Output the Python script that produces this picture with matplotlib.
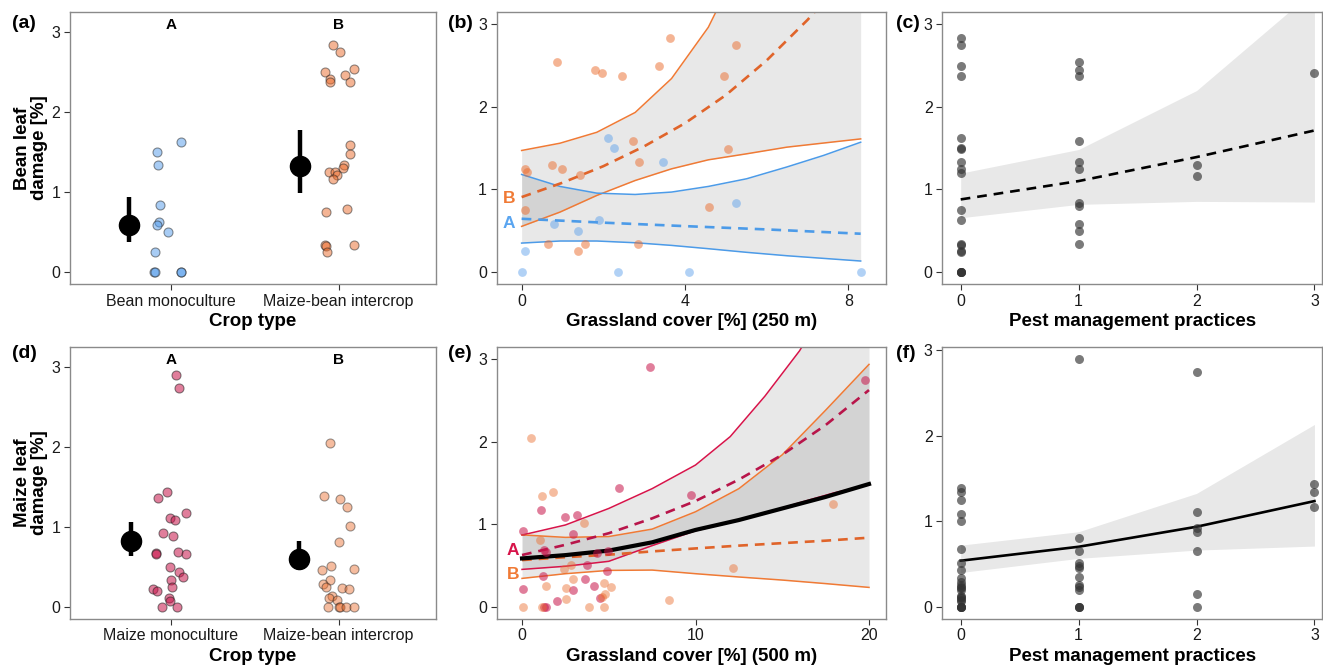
import matplotlib
matplotlib.use('Agg')
import matplotlib.pyplot as plt

plt.rcParams['font.family'] = ['Liberation Sans', 'DejaVu Sans']
plt.rcParams['lines.scale_dashes'] = False

# ---------------- data ----------------
crop_labels_bean = ['Bean monoculture', 'Maize-bean intercrop']
crop_labels_maize = ['Maize monoculture', 'Maize-bean intercrop']
group_letters = ['A', 'B']

# (a) bean leaf damage by crop type (jittered positions)
bean_mono_x = [1.06, 0.92, 0.927, 0.937, 0.929, 0.917, 0.984, 0.905, 0.90, 0.907, 1.06, 1.063]
bean_mono_y = [1.625, 1.50, 1.333, 0.833, 0.625, 0.583, 0.50, 0.25, 0, 0, 0, 0]
bean_inter_x = [1.966, 2.006, 1.92, 2.089, 1.95, 1.95, 2.04, 2.07, 2.07, 2.065, 2.03,
                2.026, 1.94, 1.976, 1.99, 1.966, 1.925, 2.05, 1.92, 1.925, 1.93, 2.09]
bean_inter_y = [2.833, 2.75, 2.5, 2.54, 2.41, 2.375, 2.46, 2.375, 1.583, 1.479, 1.34,
                1.30, 1.25, 1.25, 1.21, 1.167, 0.75, 0.79, 0.333, 0.325, 0.25, 0.333]
bean_mean_x = [0.752, 1.768]
bean_mean = [0.583, 1.32]
bean_lo = [0.375, 0.99]
bean_hi = [0.9375, 1.77]

# (d) maize leaf damage by crop type
maize_mono_x = [1.034, 1.05, 0.978, 0.925, 1.093, 0.994, 1.028, 0.954, 1.014, 1.044, 1.093, 0.91,
                0.91, 0.994, 1.048, 1.073, 1.004, 1.01, 0.897, 0.917, 0.99, 0.994, 0.946, 1.038]
maize_mono_y = [2.896, 2.74, 1.43, 1.354, 1.167, 1.104, 1.083, 0.917, 0.883, 0.6875, 0.654, 0.675,
                0.654, 0.5, 0.429, 0.375, 0.333, 0.25, 0.22, 0.20, 0.1125, 0.075, 0, 0]
maize_inter_x = [1.95, 1.91, 2.006, 2.05, 2.065, 2.0, 1.903, 1.956, 2.09, 1.95, 1.907, 1.927,
                 2.02, 2.06, 1.962, 1.942, 1.992, 1.935, 2.002, 2.01, 2.046, 2.09]
maize_inter_y = [2.05, 1.3875, 1.342, 1.25, 1.008, 0.804, 0.458, 0.508, 0.471, 0.333, 0.279, 0.25,
                 0.2375, 0.22, 0.133, 0.104, 0.083, 0, 0, 0, 0, 0]
maize_mean_x = [0.762, 1.762]
maize_mean = [0.825, 0.596]
maize_lo = [0.6375, 0.458]
maize_hi = [1.054, 0.82]

# (b) bean damage vs grassland cover 250 m
b_inter_x = [0.873, 1.796, 1.967, 2.465, 3.371, 3.624, 4.947, 5.257, 2.718, 2.873, 5.053,
             0.073, 0.122, 0.735, 0.996, 1.42, 0.073, 4.588, 0.637, 1.551, 1.371, 2.84]
b_inter_y = [2.537, 2.449, 2.404, 2.368, 2.497, 2.827, 2.368, 2.747, 1.579, 1.329, 1.482,
             1.248, 1.208, 1.289, 1.248, 1.168, 0.749, 0.789, 0.334, 0.334, 0.254, 0.334]
b_mono_x = [2.122, 2.253, 3.453, 5.241, 1.894, 0.80, 1.371, 0.073, 0.0, 2.367, 4.106, 8.302]
b_mono_y = [1.619, 1.498, 1.329, 0.834, 0.624, 0.584, 0.499, 0.254, 0, 0, 0, 0]
# fitted curves
bB_fit_x = [0, 1, 2, 3, 4, 5, 6, 7, 7.5]
bB_fit_y = [0.906, 1.08, 1.28, 1.52, 1.80, 2.14, 2.56, 3.05, 3.33]
bB_ci_x = [0, 0.94, 1.84, 2.78, 3.67, 4.57, 5.51, 6.49, 7.39, 8.30]
bB_up = [1.47, 1.558, 1.69, 1.93, 2.34, 2.96, 3.9, 5.0, 6.0, 7.0]
bB_lo = [0.552, 0.725, 0.926, 1.107, 1.248, 1.357, 1.43, 1.51, 1.56, 1.61]
bA_fit_x = [0, 2, 4, 6, 8.30]
bA_fit_y = [0.644, 0.597, 0.555, 0.515, 0.463]
bA_ci_x = [0, 0.94, 1.84, 2.78, 3.67, 4.57, 5.51, 6.49, 7.39, 8.30]
bA_up = [1.18, 1.035, 0.954, 0.938, 0.967, 1.035, 1.128, 1.27, 1.41, 1.57]
bA_lo = [0.35, 0.375, 0.375, 0.354, 0.322, 0.282, 0.238, 0.197, 0.165, 0.133]

# (c) bean damage vs pest management practices
c_x = [0] * 20 + [1] * 11 + [2] * 2 + [3]
c_y = [2.827, 2.747, 2.497, 2.368, 1.619, 1.498, 1.482, 1.329, 1.248, 1.2, 0.745, 0.624,
       0.334, 0.322, 0.254, 0.242, 0, 0, 0, 0,
       2.537, 2.449, 2.368, 1.579, 1.329, 1.248, 0.834, 0.793, 0.584, 0.499, 0.334,
       1.289, 1.16,
       2.404]
c_fit_x = [0, 1, 2, 3]
c_fit_y = [0.878, 1.10, 1.39, 1.712]
c_up = [1.196, 1.482, 2.195, 3.41]
c_lo = [0.656, 0.818, 0.854, 0.846]

# (e) maize damage vs grassland cover 500 m
e_mono_x = [7.35, 19.77, 5.6, 9.75, 1.115, 2.5, 3.17, 0.06, 2.94, 1.27, 1.40, 4.33, 4.96, 3.73,
            4.87, 1.23, 3.63, 4.13, 0.077, 2.94, 2.02, 4.5, 1.27, 1.40]
e_mono_y = [2.90, 2.745, 1.433, 1.352, 1.167, 1.086, 1.11, 0.916, 0.884, 0.686, 0.658, 0.65,
            0.678, 0.50, 0.428, 0.375, 0.331, 0.254, 0.218, 0.20, 0.073, 0.109, 0, 0]
e_inter_x = [0.54, 1.13, 1.81, 3.56, 1.06, 17.94, 12.17, 2.40, 2.85, 2.94, 1.40, 2.56, 4.71,
             5.10, 4.79, 4.62, 2.54, 8.48, 0.06, 1.15, 3.85, 4.71]
e_inter_y = [2.047, 1.344, 1.385, 1.009, 0.803, 1.247, 0.472, 0.452, 0.509, 0.331, 0.254, 0.222,
             0.283, 0.238, 0.153, 0.121, 0.097, 0.081, 0, 0, 0, 0]
e_x = [0, 2.5, 5, 7.5, 10, 12.5, 15, 17.5, 20]
eA_fit = [0.626, 0.75, 0.89, 1.07, 1.28, 1.54, 1.84, 2.2, 2.624]
eA_ci_x = [0, 2.5, 5, 7.5, 10, 12, 14, 16, 18, 20]
eA_lo = [0.452, 0.49, 0.55, 0.74, 0.92, 1.02, 1.13, 1.26, 1.38, 1.475]
eA_up = [0.868, 0.99, 1.19, 1.43, 1.716, 2.06, 2.55, 3.10, 3.8, 4.6]
eB_fit = [0.565, 0.60, 0.63, 0.67, 0.706, 0.74, 0.77, 0.80, 0.836]
eB_up = [0.87, 0.84, 0.85, 0.94, 1.15, 1.43, 1.84, 2.38, 2.935]
eB_lo = [0.343, 0.40, 0.44, 0.444, 0.40, 0.36, 0.323, 0.28, 0.234]
e_all = [0.585, 0.625, 0.68, 0.78, 0.93, 1.05, 1.19, 1.33, 1.486]

# (f) maize damage vs pest management practices
f_x = [0] * 23 + [1] * 13 + [2] * 7 + [3] * 3
f_y = [1.383, 1.344, 1.247, 1.087, 1.005, 0.674, 0.506, 0.428, 0.331, 0.292, 0.253, 0.234,
       0.22, 0.195, 0.129, 0.11, 0.097, 0.078, 0.07, 0, 0, 0, 0,
       2.894, 0.799, 0.654, 0.506, 0.475, 0.448, 0.351, 0.253, 0.234, 0.195, 0, 0, 0,
       2.746, 1.106, 0.923, 0.877, 0.65, 0.148, 0,
       1.434, 1.336, 1.169]
f_fit_x = [0, 1, 2, 3]
f_fit_y = [0.538, 0.701, 0.935, 1.235]
f_up = [0.72, 0.877, 1.325, 2.131]
f_lo = [0.40, 0.565, 0.662, 0.709]

# ---------------- style ----------------
BLUE = '#529BEB'
ORANGE = '#EB6B2B'
ORANGE_LINE = '#F07A35'
ORANGE_DASH = '#E0642A'
BLUE_LINE = '#4C9BE8'
CRIMSON = '#D7144A'
CRIMSON_DASH = '#B8154A'
PINK = '#C8144A'
RIB = dict(color='black', alpha=0.09, lw=0, zorder=1)

fig = plt.figure(figsize=(13.23, 6.67), dpi=100)
W, H = 1323.0, 667.0


def mk_axes(l, r, t, b):
    return fig.add_axes([l / W, 1 - b / H, (r - l) / W, (b - t) / H])


def style(ax):
    for s in ax.spines.values():
        s.set_color('#8a8a8a')
        s.set_linewidth(1.0)
    ax.tick_params(axis='both', colors='#333333', labelcolor='#1a1a1a',
                   labelsize=11.5, length=4, width=0.8, pad=3)
    ax.set_yticks([0, 1, 2, 3])


TOP1, BOT1 = 12, 284
TOP2, BOT2 = 346.7, 618.7
axA = mk_axes(70, 436, TOP1, BOT1)
axB = mk_axes(496.7, 886, TOP1, BOT1)
axC = mk_axes(942.3, 1322, TOP1, BOT1)
axD = mk_axes(70, 436, TOP2, BOT2)
axE = mk_axes(496.7, 886, TOP2, BOT2)
axF = mk_axes(942.3, 1322, TOP2, BOT2)

xlab_kw = dict(fontsize=13.5, fontweight='bold', labelpad=3)

# (a)
ax = axA
ax.scatter(bean_mono_x, bean_mono_y, s=42, facecolor=BLUE, edgecolor='#222222', linewidth=0.8, alpha=0.5, zorder=3)
ax.scatter(bean_inter_x, bean_inter_y, s=42, facecolor=ORANGE, edgecolor='#222222', linewidth=0.8, alpha=0.5, zorder=3)
for xm, m, lo, hi in zip(bean_mean_x, bean_mean, bean_lo, bean_hi):
    ax.plot([xm, xm], [lo, hi], color='black', lw=3.2, solid_capstyle='butt', zorder=4)
    ax.plot([xm], [m], 'o', color='black', ms=14.5, zorder=5)
for i, L in enumerate(group_letters):
    ax.text(i + 1, 3.09, L, ha='center', va='center', fontsize=11, fontweight='bold')
ax.set_xlim(0.4, 2.58)
ax.set_ylim(-0.15, 3.25)
ax.set_xticks([1, 2])
ax.set_xticklabels(crop_labels_bean)
ax.set_xlabel('Crop type', **xlab_kw)
style(ax)

# (d)
ax = axD
ax.scatter(maize_mono_x, maize_mono_y, s=42, facecolor=PINK, edgecolor='#222222', linewidth=0.8, alpha=0.55, zorder=3)
ax.scatter(maize_inter_x, maize_inter_y, s=42, facecolor=ORANGE, edgecolor='#222222', linewidth=0.8, alpha=0.45, zorder=3)
for xm, m, lo, hi in zip(maize_mean_x, maize_mean, maize_lo, maize_hi):
    ax.plot([xm, xm], [lo, hi], color='black', lw=3.2, solid_capstyle='butt', zorder=4)
    ax.plot([xm], [m], 'o', color='black', ms=14.5, zorder=5)
for i, L in enumerate(group_letters):
    ax.text(i + 1, 3.08, L, ha='center', va='center', fontsize=11, fontweight='bold')
ax.set_xlim(0.4, 2.58)
ax.set_ylim(-0.15, 3.25)
ax.set_xticks([1, 2])
ax.set_xticklabels(crop_labels_maize)
ax.set_xlabel('Crop type', **xlab_kw)
style(ax)

# (b)
ax = axB
ax.fill_between(bB_ci_x, bB_lo, bB_up, **RIB)
ax.fill_between(bA_ci_x, bA_lo, bA_up, **RIB)
ax.plot(bB_ci_x, bB_up, color=ORANGE_LINE, lw=1.1, zorder=2)
ax.plot(bB_ci_x, bB_lo, color=ORANGE_LINE, lw=1.1, zorder=2)
ax.plot(bA_ci_x, bA_up, color=BLUE_LINE, lw=1.1, zorder=2)
ax.plot(bA_ci_x, bA_lo, color=BLUE_LINE, lw=1.1, zorder=2)
ax.plot(bB_fit_x, bB_fit_y, color=ORANGE_DASH, lw=1.9, dashes=(7, 5), zorder=2)
ax.plot(bA_fit_x, bA_fit_y, color=BLUE_LINE, lw=1.9, dashes=(7, 5), zorder=2)
ax.scatter(b_inter_x, b_inter_y, s=40, color=ORANGE, alpha=0.5, lw=0, zorder=3)
ax.scatter(b_mono_x, b_mono_y, s=40, color=BLUE, alpha=0.45, lw=0, zorder=3)
ax.text(-0.31, 0.886, 'B', color=ORANGE_LINE, fontsize=12.5, fontweight='bold', ha='center', va='center')
ax.text(-0.31, 0.592, 'A', color='#5AA5F0', fontsize=12.5, fontweight='bold', ha='center', va='center')
ax.set_xlim(-0.61, 8.92)
ax.set_ylim(-0.145, 3.145)
ax.set_xticks([0, 4, 8])
ax.set_xlabel('Grassland cover [%] (250 m)', **xlab_kw)
style(ax)

# (c)
ax = axC
ax.fill_between(c_fit_x, c_lo, c_up, **RIB)
ax.plot(c_fit_x, c_fit_y, color='black', lw=1.9, dashes=(7, 5), zorder=2)
ax.scatter(c_x, c_y, s=42, color='#333333', alpha=0.65, lw=0, zorder=3)
ax.set_xlim(-0.156, 3.064)
ax.set_ylim(-0.145, 3.145)
ax.set_xticks([0, 1, 2, 3])
ax.set_xlabel('Pest management practices', **xlab_kw)
style(ax)

# (e)
ax = axE
ax.fill_between(eA_ci_x, eA_lo, eA_up, **RIB)
ax.fill_between(e_x, eB_lo, eB_up, **RIB)
ax.plot(eA_ci_x, eA_up, color=CRIMSON, lw=1.1, zorder=2)
ax.plot(eA_ci_x, eA_lo, color=CRIMSON, lw=1.1, zorder=2)
ax.plot(e_x, eB_up, color=ORANGE_LINE, lw=1.1, zorder=2)
ax.plot(e_x, eB_lo, color=ORANGE_LINE, lw=1.1, zorder=2)
ax.plot(e_x, eA_fit, color=CRIMSON_DASH, lw=1.9, dashes=(7, 5), zorder=2)
ax.plot(e_x, eB_fit, color=ORANGE_DASH, lw=1.9, dashes=(7, 5), zorder=2)
ax.plot(e_x, e_all, color='black', lw=3.0, zorder=2.5)
ax.scatter(e_mono_x, e_mono_y, s=40, color=PINK, alpha=0.55, lw=0, zorder=3)
ax.scatter(e_inter_x, e_inter_y, s=40, color=ORANGE, alpha=0.45, lw=0, zorder=3)
ax.text(-0.52, 0.686, 'A', color=CRIMSON, fontsize=12.5, fontweight='bold', ha='center', va='center')
ax.text(-0.52, 0.39, 'B', color=ORANGE_LINE, fontsize=12.5, fontweight='bold', ha='center', va='center')
ax.set_xlim(-1.46, 20.98)
ax.set_ylim(-0.145, 3.149)
ax.set_xticks([0, 10, 20])
ax.set_xlabel('Grassland cover [%] (500 m)', **xlab_kw)
style(ax)

# (f)
ax = axF
ax.fill_between(f_fit_x, f_lo, f_up, **RIB)
ax.plot(f_fit_x, f_fit_y, color='black', lw=1.9, zorder=2)
ax.scatter(f_x, f_y, s=42, color='#333333', alpha=0.65, lw=0, zorder=3)
ax.set_xlim(-0.156, 3.064)
ax.set_ylim(-0.14, 3.04)
ax.set_xticks([0, 1, 2, 3])
ax.set_xlabel('Pest management practices', **xlab_kw)
style(ax)

# y labels and panel tags
fig.text(31 / W, 1 - 148 / H, 'Bean leaf\ndamage [%]', rotation=90, ha='center', va='center',
         fontsize=13.5, fontweight='bold', multialignment='center', linespacing=1.0)
fig.text(31 / W, 1 - 483 / H, 'Maize leaf\ndamage [%]', rotation=90, ha='center', va='center',
         fontsize=13.5, fontweight='bold', multialignment='center', linespacing=1.0)
for lab, (px, py) in zip(['(a)', '(b)', '(c)', '(d)', '(e)', '(f)'],
                         [(12, 23), (448, 23), (896, 23), (12, 353), (448, 353), (896, 353)]):
    fig.text(px / W, 1 - py / H, lab, fontsize=14, fontweight='bold', ha='left', va='center')

fig.savefig('out.png', dpi=100)
